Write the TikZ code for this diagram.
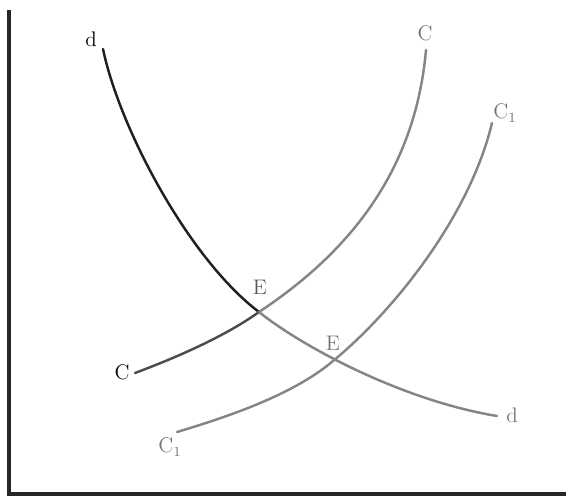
\documentclass[tikz,border=0pt]{standalone}
\usetikzlibrary{calc}
\definecolor{CurveDark}{rgb}{0.12,0.12,0.12}
\definecolor{CurveGray}{rgb}{0.52,0.52,0.52}
\definecolor{LabelGray}{rgb}{0.45,0.45,0.45}

\begin{document}
\begin{tikzpicture}[x=0.02cm,y=-0.02cm,
  curve/.style={line width=1.4pt,line cap=round},
  lbl/.style={font=\fontsize{12}{14}\selectfont,inner sep=0pt}]
\useasboundingbox (0,0) rectangle (566,497);

% frame
\draw[line width=2pt,color=black!85] (9,10) -- (9,494) -- (566,494);

\coordinate (dA) at (103,49);
\coordinate (dB) at (497,416);
\coordinate (cA) at (135,373);
\coordinate (cB) at (426,50);
\coordinate (kA) at (177,432);
\coordinate (kB) at (492,123);
\coordinate (E) at (259,312);
\coordinate (F) at (333,361);

% d d
\draw[curve,CurveDark] (dA) .. controls (120,130) and (190,260) .. (E);
\draw[curve,CurveGray] (E) .. controls (300,345) and (400,400) .. (dB);

% C C
\draw[curve,black!70] (cA) .. controls (175,358) and (224,337) .. (E);
\draw[curve,CurveGray] (E) .. controls (345,255) and (415,175) .. (cB);

% C1 C1
\draw[curve,CurveGray] (kA) .. controls (227,417) and (293,395) .. (F);
\draw[curve,CurveGray] (F) .. controls (395,310) and (470,215) .. (kB);

\node[lbl] (dTop) at (91,39) {d};
\node[lbl,LabelGray] (dBot) at (512,415) {d};
\node[lbl] (cLeft) at (122,372) {C};
\node[lbl,LabelGray] (cTop) at (425,33) {C};
\node[lbl,LabelGray] (kTop) at (505,113) {C$_1$};
\node[lbl,LabelGray] (kBot) at (170,447) {C$_1$};
\node[lbl,black!65] (eOne) at (260,287) {E};
\node[lbl,LabelGray] (eTwo) at (333,343) {E};
\end{tikzpicture}
\end{document}
